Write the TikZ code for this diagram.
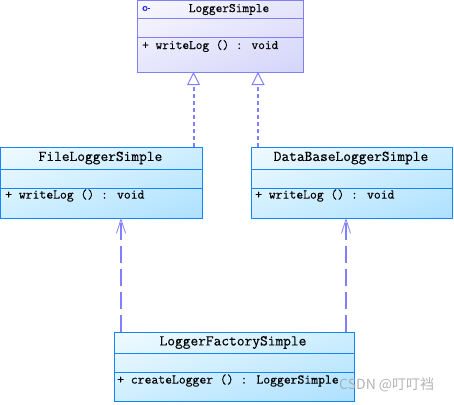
\documentclass[tikz,border=0pt]{standalone}
\usepackage{fontspec}
\newfontfamily\cjk{Noto Sans CJK SC}
\newfontfamily\umlmono{Latin Modern Mono}[FakeBold=0.4]
\usetikzlibrary{arrows.meta,shadings}
\definecolor{lsborder}{RGB}{128,128,240}
\definecolor{lsfillA}{RGB}{248,248,255}
\definecolor{lsfillB}{RGB}{230,230,252}
\definecolor{lsfillC}{RGB}{212,212,250}
\definecolor{blborder}{RGB}{20,132,250}
\definecolor{blfillA}{RGB}{240,250,255}
\definecolor{blfillB}{RGB}{205,238,255}
\definecolor{blfillC}{RGB}{172,224,255}
\definecolor{conn}{RGB}{128,128,255}
\definecolor{iconblue}{RGB}{30,30,220}
\tikzset{
  lsbox/.style={draw=lsborder, line width=1pt, anchor=north west, inner sep=0pt,
    upper left=lsfillA, upper right=lsfillB, lower left=lsfillB, lower right=lsfillC},
  blbox/.style={draw=blborder, line width=1.4pt, anchor=north west, inner sep=0pt,
    upper left=blfillA, upper right=blfillB, lower left=blfillB, lower right=blfillC},
  ttl/.style={font=\umlmono\fontsize{15}{15}\selectfont, inner sep=0pt, anchor=center},
  lsttl/.style={font=\umlmono\fontsize{13}{13}\selectfont, inner sep=0pt, anchor=center},
  mbr/.style={font=\umlmono\fontsize{13.3}{13.3}\selectfont, inner sep=0pt, anchor=west},
  realize/.style={draw=conn, line width=2pt, dash pattern=on 4pt off 3pt,
    -{Triangle[open, length=13pt, width=13pt, line width=1pt, fill=white]}},
  depend/.style={draw=conn, line width=2pt, dash pattern=on 17pt off 6pt,
    -{Straight Barb[length=14pt, width=9pt, line width=0.8pt]}},
}
\begin{document}
\begin{tikzpicture}[x=1pt,y=-1pt]
\useasboundingbox (0,0) rectangle (454,404);
% LoggerSimple
\node[lsbox, minimum width=166pt, minimum height=72pt] (LS) at (137,0) {};
\draw[lsborder, line width=1pt] ([yshift=-19pt]LS.north west) -- ([yshift=-19pt]LS.north east);
\draw[lsborder, line width=1pt] ([yshift=-38pt]LS.north west) -- ([yshift=-38pt]LS.north east);
\node[lsttl] (LSt) at (229,9.5) {LoggerSimple};
\node[mbr, font=\umlmono\fontsize{13}{13}\selectfont] (LSm) at (142,46) {+ writeLog () : void};
\node[circle, draw=iconblue, line width=1pt, inner sep=0pt, minimum size=4pt] (icon) at (145,8.5) {};
\coordinate (iconend) at (150,8.5);
\draw[iconblue, line width=1pt] (icon.east) -- (iconend);
% FileLoggerSimple
\node[blbox, minimum width=202pt, minimum height=71pt] (File) at (0,147) {};
\draw[blborder, line width=1pt] ([yshift=-22pt]File.north west) -- ([yshift=-22pt]File.north east);
\draw[blborder, line width=1pt] ([yshift=-41pt]File.north west) -- ([yshift=-41pt]File.north east);
\node[ttl] (Filet) at (100.5,158) {FileLoggerSimple};
\node[mbr] (Filem) at (5,195.5) {+ writeLog () : void};
% DataBaseLoggerSimple
\node[blbox, minimum width=201pt, minimum height=71pt] (DB) at (251,147) {};
\draw[blborder, line width=1pt] ([yshift=-22pt]DB.north west) -- ([yshift=-22pt]DB.north east);
\draw[blborder, line width=1pt] ([yshift=-41pt]DB.north west) -- ([yshift=-41pt]DB.north east);
\node[ttl] (DBt) at (351,158) {DataBaseLoggerSimple};
\node[mbr] (DBm) at (255,195.5) {+ writeLog () : void};
% LoggerFactorySimple
\node[blbox, minimum width=240pt, minimum height=69pt] (Fac) at (114,332) {};
\draw[blborder, line width=1pt] ([yshift=-21pt]Fac.north west) -- ([yshift=-21pt]Fac.north east);
\draw[blborder, line width=1pt] ([yshift=-40pt]Fac.north west) -- ([yshift=-40pt]Fac.north east);
\node[ttl] (Fact) at (233,342.5) {LoggerFactorySimple};
\node[mbr] (Facm) at (117,380.5) {+ createLogger () : LoggerSimple};
% connectors
\coordinate (r1) at (193.5,72);
\coordinate (r2) at (258,72);
\draw[realize] (r1 |- File.north) -- (r1);
\draw[realize] (r2 |- DB.north) -- (r2);
\coordinate (d1) at (121,218);
\coordinate (d2) at (346,218);
\draw[depend] (d1 |- Fac.north) -- (d1);
\draw[depend] (d2 |- Fac.north) -- (d2);
% watermark
\node[font=\cjk\fontsize{14}{14}\selectfont, text=gray!70, text opacity=0.85, anchor=west, inner sep=0pt] (wm) at (339,385) {CSDN @叮叮裆};
\end{tikzpicture}
\end{document}
